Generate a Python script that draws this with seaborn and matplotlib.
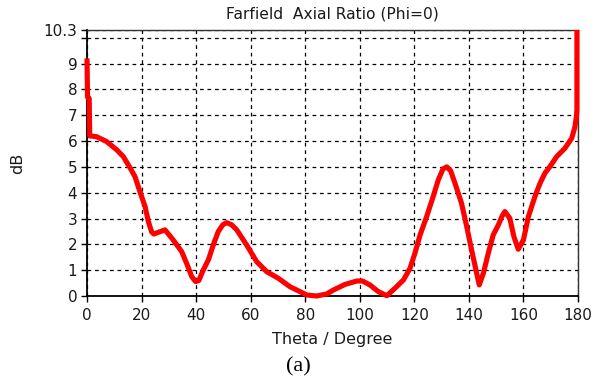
import numpy as np
import pandas as pd
import matplotlib
matplotlib.use("Agg")
import matplotlib.pyplot as plt
import seaborn as sns

theta = [0.0, 0.2, 0.8, 1.0, 3.5, 7.2, 10.9, 13.3, 15.8, 17.6, 19.4, 21.3, 22.5, 23.7, 24.5,
         26.5, 28.6, 31.6, 34.7, 36.5, 38.4, 39.8, 41.0, 42.6, 44.5, 46.3, 48.1, 49.8, 51.2,
         53.0, 54.9, 58.5, 62.2, 65.9, 70.1, 74.4, 78.1, 80.5, 84.2, 87.9, 90.3, 94.6, 98.9,
         101.0, 103.7, 106.8, 109.9, 112.9, 116.0, 118.4, 120.2, 122.1, 124.5, 126.9, 128.8,
         130.5, 131.9, 133.3, 134.9, 137.3, 139.2, 141.0, 142.6, 143.8, 145.3, 147.1, 148.9,
         150.8, 152.2, 153.2, 155.0, 156.5, 158.1, 160.0, 161.8, 164.2, 166.1, 167.9, 169.7,
         172.2, 175.2, 177.7, 178.9, 179.4, 179.6, 179.6]
axial_ratio = [9.2, 7.7, 7.65, 6.2, 6.17, 5.98, 5.66, 5.4, 4.96, 4.62, 4.04, 3.46, 2.88, 2.48, 2.4,
               2.48, 2.56, 2.17, 1.72, 1.27, 0.75, 0.56, 0.6, 1.0, 1.4, 1.98, 2.49, 2.76, 2.84,
               2.76, 2.56, 1.98, 1.33, 0.94, 0.69, 0.36, 0.17, 0.04, 0.0, 0.08, 0.23, 0.45, 0.58,
               0.58, 0.43, 0.17, 0.01, 0.3, 0.62, 1.07, 1.65, 2.36, 3.07, 3.85, 4.5,
               4.92, 5.0, 4.85, 4.37, 3.59, 2.69, 1.78, 1.0, 0.43, 0.88, 1.65, 2.36,
               2.75, 3.1, 3.27, 3.01, 2.3, 1.81, 2.17, 3.07, 3.85, 4.37, 4.76, 5.01,
               5.4, 5.72, 6.11, 6.56, 6.95, 7.2, 10.3]

x_ticks = [0, 20, 40, 60, 80, 100, 120, 140, 160, 180]
y_ticks = [0, 1, 2, 3, 4, 5, 6, 7, 8, 9, 10, 10.3]
y_tick_labels = ["0", "1", "2", "3", "4", "5", "6", "7", "8", "9", "", "10.3"]

df = pd.DataFrame({"theta": theta, "ar": axial_ratio})

sns.set_theme(style="white")
plt.rcParams["font.family"] = ["DejaVu Sans"]

fig = plt.figure(figsize=(5.94, 3.80), dpi=100)
ax = fig.add_axes([87 / 594, 84 / 380, (578 - 87) / 594, (296 - 30) / 380])

sns.lineplot(data=df, x="theta", y="ar", ax=ax, color="#ff0000", linewidth=3.7,
             sort=False, estimator=None, zorder=3, solid_capstyle="butt")
for ln in ax.get_lines():
    ln.set_clip_on(False)

ax.set_xlim(0, 180)
ax.set_ylim(0, 10.3)
ax.set_xticks(x_ticks)
ax.set_yticks(y_ticks)
ax.set_yticklabels(y_tick_labels)

ax.grid(True, color="black", linestyle=(0, (3, 3)), linewidth=0.9)
ax.tick_params(axis="both", which="both", direction="out", length=4, width=1,
               color="black", labelsize=11, labelcolor="#1a1a1a",
               left=True, bottom=True)
ax.tick_params(axis="x", pad=5)
ax.tick_params(axis="y", pad=3)
for s in ["left", "bottom"]:
    ax.spines[s].set_color("black")
    ax.spines[s].set_linewidth(1.3)
for s in ["top", "right"]:
    ax.spines[s].set_color("#333333")
    ax.spines[s].set_linewidth(1.0)

ax.set_xlabel("Theta / Degree", fontsize=11.5, color="#1a1a1a", labelpad=6)
ax.set_ylabel("dB", fontsize=11.5, color="#1a1a1a", labelpad=13)
ax.set_title("Farfield  Axial Ratio (Phi=0)", fontsize=11.2, color="#1a1a1a", pad=8)

fig.text(298 / 594, 1 - 367 / 380, "(a)", ha="center", va="center",
         fontsize=16, family="Liberation Serif", color="black")

fig.savefig("out.png", dpi=100)
